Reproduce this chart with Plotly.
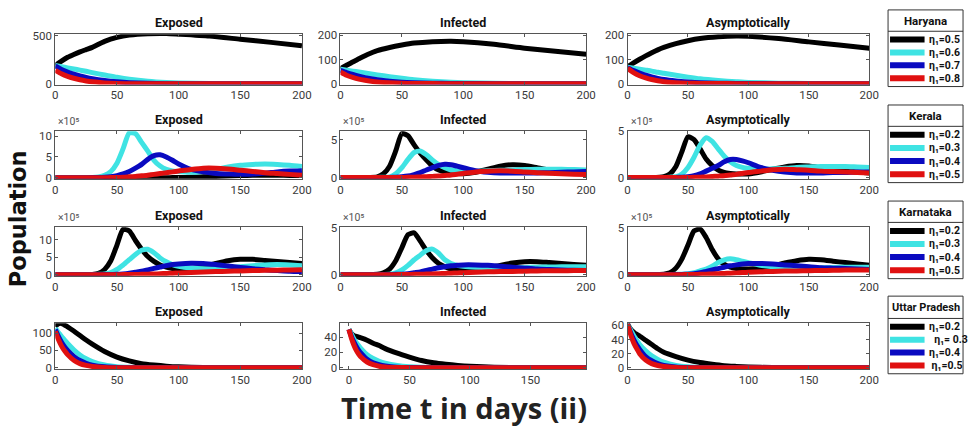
import plotly.graph_objects as go

W, H = 976, 437

# ---------------- time grids (days) ----------------
T_R1 = [0, 5, 10, 15, 20, 25, 30, 40, 50, 60, 75, 90, 100, 125, 150, 175, 200]
T_R23 = [0, 10, 20, 30, 35, 40, 45, 50, 55, 60, 65, 70, 75, 80, 85, 90, 95, 100,
         110, 120, 130, 140, 150, 160, 170, 180, 190, 200]
T_R4 = [0, 2, 4, 6, 8, 10, 15, 20, 25, 30, 40, 50, 60, 70, 80, 90, 100, 120, 150, 200]

# ---------------- Haryana (eta1 = 0.5, 0.6, 0.7, 0.8) ----------------
ETA_HAR = ["η₁=0.5", "η₁=0.6", "η₁=0.7", "η₁=0.8"]
HAR_E1 = [190, 235, 275, 305, 332, 355, 378, 440, 481, 505, 520, 522, 515, 495, 462, 430, 395]
HAR_E2 = [190, 178, 166, 154, 142, 130, 116, 92, 68, 48, 27, 14, 9, 3, 1, 0, 0]
HAR_E3 = [185, 150, 122, 100, 82, 66, 53, 34, 21, 12, 5, 2, 1, 0, 0, 0, 0]
HAR_E4 = [140, 105, 78, 58, 42, 30, 21, 10, 4, 2, 0.5, 0, 0, 0, 0, 0, 0]

HAR_I1 = [62, 76, 90, 103, 116, 127, 137, 150, 160, 168, 174, 176, 174, 163, 147, 134, 122]
HAR_I2 = [60, 56, 52, 48, 44, 40, 36, 29, 22, 16, 10, 6, 4, 1.5, 0.5, 0, 0]
HAR_I3 = [55, 46, 38, 31, 25, 20, 16, 10, 6, 4, 2, 1, 0.5, 0, 0, 0, 0]
HAR_I4 = [48, 35, 26, 19, 14, 10, 7, 3.5, 1.5, 0.7, 0.2, 0, 0, 0, 0, 0, 0]

HAR_A1 = [70, 86, 101, 115, 128, 140, 150, 166, 178, 187, 194, 197, 196, 187, 173, 160, 147]
HAR_A2 = [68, 64, 60, 56, 52, 47, 43, 35, 27, 20, 13, 8, 5, 2, 0.5, 0, 0]
HAR_A3 = [66, 54, 44, 35, 28, 22, 17, 11, 7, 4, 2, 1, 0.5, 0, 0, 0, 0]
HAR_A4 = [64, 46, 33, 24, 17, 12, 8, 4, 2, 1, 0.3, 0, 0, 0, 0, 0, 0]

# ---------------- Kerala (x10^5, eta1 = 0.2 ... 0.5) ----------------
ETA_KER = ["η₁=0.2", "η₁=0.3", "η₁=0.4", "η₁=0.5"]
KER_E1 = [0, 0, 0, 0, 0, 0, 0, 0, 0, 0, 0, 0, 0, 0, 0, 0, 0.02, 0.05, 0.1, 0.2, 0.3, 0.4, 0.5, 0.6, 0.6, 0.6, 0.55, 0.5]
KER_E2 = [0, 0, 0, 0.05, 0.2, 0.6, 1.5, 3.5, 7.0, 10.8, 10.6, 8.5, 6.4, 4.2, 2.8, 2.0, 1.6, 1.5, 1.3, 1.5, 2.0, 2.6, 3.0, 3.2, 3.3, 3.2, 3.0, 2.7]
KER_E3 = [0, 0, 0, 0.02, 0.03, 0.1, 0.25, 0.5, 0.9, 1.5, 2.3, 3.2, 4.4, 5.3, 5.5, 5.0, 4.2, 3.3, 2.0, 1.4, 1.0, 0.9, 0.8, 0.9, 1.1, 1.4, 1.6, 1.7]
KER_E4 = [0, 0, 0, 0, 0, 0, 0.02, 0.05, 0.1, 0.2, 0.3, 0.45, 0.6, 0.8, 1.0, 1.2, 1.4, 1.6, 2.0, 2.3, 2.3, 2.1, 1.8, 1.5, 1.2, 1.0, 0.8, 0.6]

KER_I1 = [0, 0, 0, 0.1, 0.5, 1.5, 3.5, 5.8, 5.5, 4.3, 3.2, 2.3, 1.5, 1.0, 0.75, 0.6, 0.55, 0.5, 0.7, 1.1, 1.5, 1.7, 1.6, 1.3, 1.0, 0.8, 0.7, 0.6]
KER_I2 = [0, 0, 0, 0.02, 0.05, 0.1, 0.5, 1.3, 2.4, 3.3, 3.5, 3.0, 2.3, 1.7, 1.3, 1.0, 0.9, 0.8, 0.8, 0.9, 0.95, 1.0, 1.05, 1.1, 1.1, 1.1, 1.05, 1.0]
KER_I3 = [0, 0, 0, 0, 0, 0.02, 0.05, 0.1, 0.2, 0.4, 0.65, 1.0, 1.3, 1.6, 1.75, 1.7, 1.5, 1.3, 0.9, 0.7, 0.6, 0.6, 0.6, 0.6, 0.65, 0.7, 0.75, 0.8]
KER_I4 = [0, 0, 0, 0, 0, 0, 0, 0.02, 0.03, 0.05, 0.08, 0.12, 0.16, 0.2, 0.28, 0.35, 0.45, 0.55, 0.75, 0.85, 0.9, 0.85, 0.75, 0.65, 0.58, 0.5, 0.45, 0.4]

KER_A1 = [0, 0, 0, 0.1, 0.4, 1.2, 2.8, 4.4, 4.1, 3.1, 2.0, 1.3, 0.8, 0.55, 0.45, 0.4, 0.4, 0.4, 0.6, 0.9, 1.15, 1.3, 1.25, 1.05, 0.85, 0.7, 0.6, 0.5]
KER_A2 = [0, 0, 0, 0.02, 0.05, 0.1, 0.4, 1.1, 2.2, 3.5, 4.3, 3.9, 3.1, 2.3, 1.7, 1.3, 1.1, 1.0, 0.9, 0.95, 1.0, 1.1, 1.15, 1.2, 1.2, 1.2, 1.15, 1.1]
KER_A3 = [0, 0, 0, 0, 0, 0.02, 0.05, 0.1, 0.2, 0.4, 0.7, 1.0, 1.3, 1.7, 1.95, 1.95, 1.8, 1.6, 1.1, 0.8, 0.6, 0.5, 0.5, 0.5, 0.55, 0.55, 0.6, 0.6]
KER_A4 = [0, 0, 0, 0, 0, 0, 0, 0.02, 0.03, 0.05, 0.08, 0.12, 0.16, 0.2, 0.28, 0.35, 0.45, 0.55, 0.7, 0.85, 0.9, 0.85, 0.8, 0.7, 0.65, 0.6, 0.55, 0.5]

# ---------------- Karnataka (x10^5, eta1 = 0.2 ... 0.5) ----------------
ETA_KAR = ["η₁=0.2", "η₁=0.3", "η₁=0.4", "η₁=0.5"]
KAR_E1 = [0, 0, 0, 0.1, 0.4, 1.5, 4.0, 8.5, 13.0, 12.5, 9.8, 7.3, 5.2, 3.8, 2.8, 2.2, 1.8, 1.6, 1.7, 2.3, 3.2, 4.0, 4.4, 4.4, 4.1, 3.8, 3.5, 3.2]
KAR_E2 = [0, 0, 0, 0.05, 0.1, 0.2, 0.6, 1.5, 2.8, 4.3, 5.8, 7.0, 7.3, 6.3, 4.8, 3.7, 2.9, 2.4, 1.9, 1.7, 1.8, 2.0, 2.3, 2.6, 2.8, 2.9, 2.8, 2.6]
KAR_E3 = [0, 0, 0, 0.02, 0.03, 0.05, 0.08, 0.1, 0.2, 0.4, 0.7, 1.0, 1.4, 1.8, 2.2, 2.6, 2.9, 3.1, 3.3, 3.2, 2.9, 2.5, 2.1, 1.7, 1.4, 1.2, 1.0, 0.9]
KAR_E4 = [0, 0, 0, 0, 0, 0, 0, 0.02, 0.03, 0.05, 0.08, 0.1, 0.15, 0.2, 0.28, 0.35, 0.42, 0.5, 0.65, 0.8, 0.9, 1.0, 1.1, 1.2, 1.25, 1.3, 1.35, 1.4]

KAR_I1 = [0, 0, 0, 0.05, 0.2, 0.6, 1.5, 2.9, 4.3, 4.5, 3.6, 2.6, 1.8, 1.2, 0.85, 0.6, 0.5, 0.45, 0.5, 0.7, 1.0, 1.25, 1.4, 1.4, 1.3, 1.2, 1.1, 1.0]
KAR_I2 = [0, 0, 0, 0, 0.02, 0.05, 0.2, 0.5, 1.0, 1.6, 2.1, 2.6, 2.75, 2.3, 1.6, 1.2, 1.0, 0.9, 0.8, 0.75, 0.75, 0.75, 0.78, 0.8, 0.82, 0.85, 0.85, 0.85]
KAR_I3 = [0, 0, 0, 0, 0, 0.02, 0.03, 0.05, 0.1, 0.2, 0.3, 0.45, 0.6, 0.75, 0.85, 0.95, 1.0, 1.05, 1.05, 1.0, 0.9, 0.8, 0.7, 0.6, 0.55, 0.5, 0.47, 0.45]
KAR_I4 = [0, 0, 0, 0, 0, 0, 0, 0.01, 0.02, 0.03, 0.04, 0.06, 0.08, 0.1, 0.13, 0.15, 0.18, 0.2, 0.25, 0.3, 0.33, 0.35, 0.37, 0.4, 0.41, 0.42, 0.44, 0.45]

KAR_A1 = [0, 0, 0, 0.05, 0.2, 0.7, 1.7, 3.2, 4.7, 4.9, 4.0, 2.7, 1.7, 1.1, 0.8, 0.65, 0.6, 0.6, 0.7, 0.95, 1.25, 1.5, 1.65, 1.6, 1.45, 1.3, 1.15, 1.0]
KAR_A2 = [0, 0, 0, 0, 0.02, 0.03, 0.05, 0.1, 0.2, 0.4, 0.6, 0.9, 1.3, 1.6, 1.7, 1.6, 1.45, 1.3, 1.0, 0.85, 0.75, 0.7, 0.72, 0.75, 0.78, 0.8, 0.8, 0.8]
KAR_A3 = [0, 0, 0, 0, 0, 0.01, 0.02, 0.05, 0.1, 0.2, 0.35, 0.5, 0.65, 0.8, 0.95, 1.05, 1.15, 1.2, 1.2, 1.15, 1.05, 0.95, 0.85, 0.75, 0.7, 0.65, 0.6, 0.55]
KAR_A4 = [0, 0, 0, 0, 0, 0, 0, 0.01, 0.02, 0.03, 0.05, 0.07, 0.1, 0.13, 0.16, 0.19, 0.22, 0.25, 0.3, 0.35, 0.38, 0.4, 0.43, 0.45, 0.47, 0.5, 0.5, 0.5]

# ---------------- Uttar Pradesh (eta1 = 0.2 ... 0.5) ----------------
ETA_UP = ["η₁=0.2", "  η₁= 0.3", "η₁=0.4", " η₁=0.5"]
UP_E1 = [118, 126, 128, 126, 122, 118, 106, 93, 80, 68, 47, 31, 20, 12, 8, 5, 3, 1.2, 0.3, 0]
UP_E2 = [114, 104, 95, 86, 78, 70, 52, 37, 26, 18, 8, 3.5, 1.5, 0.6, 0.3, 0.1, 0, 0, 0, 0]
UP_E3 = [110, 94, 80, 68, 58, 50, 33, 21, 13, 8, 3, 1, 0.4, 0.1, 0, 0, 0, 0, 0, 0]
UP_E4 = [105, 86, 70, 57, 47, 38, 22, 12, 7, 4, 1.2, 0.4, 0.1, 0, 0, 0, 0, 0, 0, 0]

UP_I1 = [50, 45, 42, 41, 40, 39, 36, 32, 29, 25, 19, 14, 9.5, 6.5, 4.5, 3, 2, 0.7, 0.1, 0]
UP_I2 = [50, 44, 38, 33, 29, 25, 17, 12, 8.5, 6, 3, 1.4, 0.6, 0.3, 0.1, 0, 0, 0, 0, 0]
UP_I3 = [50, 41, 34, 28, 23, 19, 11, 6.5, 4, 2.4, 0.8, 0.3, 0.1, 0, 0, 0, 0, 0, 0, 0]
UP_I4 = [50, 39, 30, 23, 18, 14, 7.5, 4, 2, 1, 0.3, 0.1, 0, 0, 0, 0, 0, 0, 0, 0]

UP_A1 = [62, 56, 52, 49, 47, 45, 39, 33, 27, 22, 16, 11, 7.5, 5, 3, 2, 1.2, 0.4, 0.1, 0]
UP_A2 = [62, 55, 49, 43, 38, 33, 24, 17, 12, 8, 3.5, 1.5, 0.6, 0.2, 0.1, 0, 0, 0, 0, 0]
UP_A3 = [62, 52, 44, 37, 31, 26, 16, 10, 6, 3.5, 1.2, 0.4, 0.1, 0, 0, 0, 0, 0, 0, 0]
UP_A4 = [62, 50, 40, 32, 26, 20, 11, 6, 3.3, 1.8, 0.5, 0.15, 0, 0, 0, 0, 0, 0, 0, 0]

STATES = ["Haryana", "Kerala", "Karnataka", "Uttar Pradesh"]
COMPARTMENTS = ["Exposed", "Infected", "Asymptotically"]
COLORS = ["#000000", "#3fe3e3", "#0a0ac0", "#e01010"]

# rows = states, columns = compartments
PANELS = [
    [(T_R1, [HAR_E1, HAR_E2, HAR_E3, HAR_E4]), (T_R1, [HAR_I1, HAR_I2, HAR_I3, HAR_I4]), (T_R1, [HAR_A1, HAR_A2, HAR_A3, HAR_A4])],
    [(T_R23, [KER_E1, KER_E2, KER_E3, KER_E4]), (T_R23, [KER_I1, KER_I2, KER_I3, KER_I4]), (T_R23, [KER_A1, KER_A2, KER_A3, KER_A4])],
    [(T_R23, [KAR_E1, KAR_E2, KAR_E3, KAR_E4]), (T_R23, [KAR_I1, KAR_I2, KAR_I3, KAR_I4]), (T_R23, [KAR_A1, KAR_A2, KAR_A3, KAR_A4])],
    [(T_R4, [UP_E1, UP_E2, UP_E3, UP_E4]), (T_R4, [UP_I1, UP_I2, UP_I3, UP_I4]), (T_R4, [UP_A1, UP_A2, UP_A3, UP_A4])],
]
LEGEND_LABELS = [ETA_HAR, ETA_KER, ETA_KAR, ETA_UP]

Y_RANGES = [
    [[-8, 515], [-4, 205], [-4, 205]],
    [[-0.25, 11.2], [-0.15, 6.1], [-0.12, 5.0]],
    [[-0.3, 13.6], [-0.12, 5.1], [-0.12, 5.1]],
    [[-3, 128], [-1.5, 58], [-1.5, 63]],
]
Y_TICKS = [
    [[0, 500], [0, 100, 200], [0, 100, 200]],
    [[0, 5, 10], [0, 5], [0, 5]],
    [[0, 5, 10], [0, 5], [0, 5]],
    [[0, 50, 100], [0, 20, 40], [0, 20, 40, 60]],
]
SCALED_ROWS = [1, 2]  # rows plotted in units of 10^5

# panel boxes in pixels
COLS_PX = [(53, 303), (342, 591), (633, 878)]
ROWS_PX = [(28, 80), (128, 177), (227, 277), (326, 373)]


def fx(px):
    return px / W


def fy(py):
    return 1 - py / H


NARROW = "Liberation Sans Narrow, Roboto, sans-serif"
TICK_FONT = dict(family=NARROW, size=11.5, color="#3a3a3a")
AX_COLOR = "#555555"

fig = go.Figure()
layout = dict(
    width=W, height=H, margin=dict(l=0, r=0, t=0, b=0),
    paper_bgcolor="white", plot_bgcolor="white", showlegend=False,
)
annotations = []
shapes = []

for r in range(4):
    for c in range(3):
        idx = r * 3 + c + 1
        sfx = "" if idx == 1 else str(idx)
        t, series = PANELS[r][c]
        for k in range(4):
            fig.add_trace(go.Scatter(
                x=t, y=series[k], mode="lines",
                line=dict(color=COLORS[k], width=5, shape="spline", smoothing=0.6),
                xaxis="x" + sfx, yaxis="y" + sfx, hoverinfo="skip",
            ))
        x0, x1 = COLS_PX[c]
        top, bot = ROWS_PX[r]
        if r == 3 and c == 1:
            xr, xt = [-7, 196], [0, 50, 100, 150]
        else:
            xr, xt = [0, 200], [0, 50, 100, 150, 200]
        layout["xaxis" + sfx] = dict(
            domain=[fx(x0), fx(x1)], range=xr, tickvals=xt, anchor="y" + sfx,
            showline=True, linecolor=AX_COLOR, linewidth=1, mirror="allticks",
            ticks="inside", ticklen=3, tickcolor=AX_COLOR, showgrid=False,
            zeroline=False, tickfont=TICK_FONT, fixedrange=True,
        )
        layout["yaxis" + sfx] = dict(
            domain=[fy(bot), fy(top)], range=Y_RANGES[r][c], tickvals=Y_TICKS[r][c],
            anchor="x" + sfx, showline=True, linecolor=AX_COLOR, linewidth=1,
            mirror="allticks", ticks="inside", ticklen=3, tickcolor=AX_COLOR,
            showgrid=False, zeroline=False, tickfont=TICK_FONT, fixedrange=True,
        )
        # panel title
        annotations.append(dict(
            text="<b>" + COMPARTMENTS[c] + "</b>", x=fx((x0 + x1) / 2), y=fy(top - 2),
            xref="paper", yref="paper", xanchor="center", yanchor="bottom",
            showarrow=False, font=dict(family="Roboto, sans-serif", size=12.5, color="#111111"),
        ))
        if r in SCALED_ROWS:
            annotations.append(dict(
                text="×10⁵", x=fx(x0 + 1), y=fy(top - 1),
                xref="paper", yref="paper", xanchor="left", yanchor="bottom",
                showarrow=False, font=dict(family=NARROW, size=10.5, color="#555555"),
            ))

# legend boxes, one per state
LEG_X0, LEG_X1 = 897, 973
LEG_BOXES = [(3, 25, 82), (101, 123, 181), (200, 222, 280), (298, 321, 378)]
for s, (top, sep, bot) in enumerate(LEG_BOXES):
    shapes.append(dict(type="rect", xref="paper", yref="paper",
                       x0=fx(LEG_X0), x1=fx(LEG_X1), y0=fy(bot), y1=fy(top),
                       line=dict(color="#333333", width=1), fillcolor="white", layer="above"))
    shapes.append(dict(type="line", xref="paper", yref="paper",
                       x0=fx(LEG_X0), x1=fx(LEG_X1), y0=fy(sep), y1=fy(sep),
                       line=dict(color="#333333", width=1), layer="above"))
    annotations.append(dict(
        text="<b>" + STATES[s] + "</b>", x=fx((LEG_X0 + LEG_X1) / 2), y=fy((top + sep) / 2),
        xref="paper", yref="paper", xanchor="center", yanchor="middle", showarrow=False,
        font=dict(family="Roboto, sans-serif", size=11.5 if s < 3 else 11, color="#111111"),
    ))
    step = (bot - sep - 4) / 4
    for k in range(4):
        yy = sep + 2 + step * (k + 0.5)
        shapes.append(dict(type="line", xref="paper", yref="paper",
                           x0=fx(899), x1=fx(934), y0=fy(yy), y1=fy(yy),
                           line=dict(color=COLORS[k], width=6), layer="above"))
        annotations.append(dict(
            text="<b>" + LEGEND_LABELS[s][k] + "</b>", x=fx(936), y=fy(yy),
            xref="paper", yref="paper", xanchor="left", yanchor="middle", showarrow=False,
            font=dict(family=NARROW, size=10.5, color="#111111"),
        ))

# shared axis titles
annotations.append(dict(
    text="<b>Population</b>", x=fx(15), y=fy(218), xref="paper", yref="paper",
    xanchor="center", yanchor="middle", textangle=-90, showarrow=False,
    font=dict(family="DejaVu Sans, sans-serif", size=22.5, color="#111111"),
))
annotations.append(dict(
    text="<b>Time t in days (ii)</b>", x=fx(467), y=fy(413), xref="paper", yref="paper",
    xanchor="center", yanchor="middle", showarrow=False,
    font=dict(family="Open Sans, sans-serif", size=29, color="#222222"),
))

layout["annotations"] = annotations
layout["shapes"] = shapes
fig.update_layout(**layout)
fig.write_html("out.html")
